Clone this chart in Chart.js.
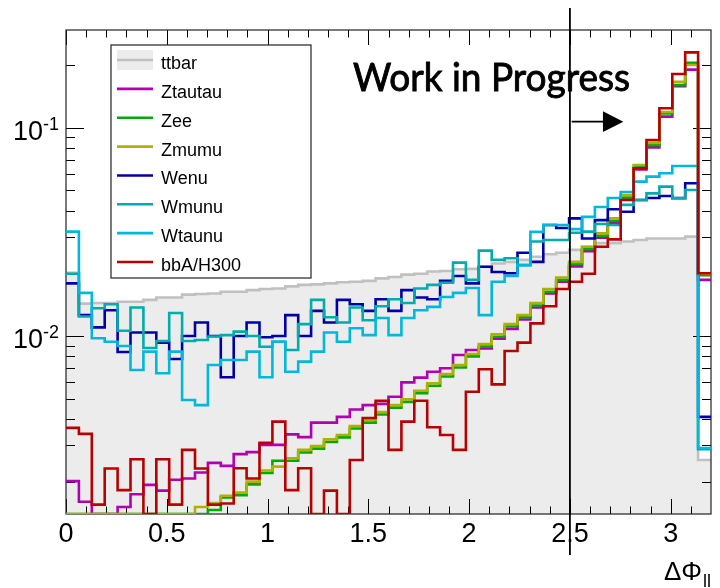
<!DOCTYPE html>
<html>
<head>
<meta charset="utf-8">
<script src="https://cdn.jsdelivr.net/npm/chart.js@4.4.1/dist/chart.umd.min.js"></script>
<style>
  html, body { margin: 0; padding: 0; background: #fff; }
  canvas { display: block; }
</style>
</head>
<body>
<canvas id="c" width="720" height="588"></canvas>
<script>
// Binning of the delta-phi histograms: 50 bins of 0.064 from 0 to 3.2
const binWidth = 0.064;
const nBins = 50;
const xTickValues = [0, 0.5, 1, 1.5, 2, 2.5, 3];
const xTickLabels = ['0', '0.5', '1', '1.5', '2', '2.5', '3'];
const yDecadeLabels = [-1, -2];

// Normalised bin contents per sample (0 = empty bin)
const ttbar = [0.0201, 0.0143, 0.0144, 0.0144, 0.0146, 0.0146, 0.0149, 0.0153, 0.0153, 0.0158,
  0.0159, 0.0160, 0.0163, 0.0163, 0.0166, 0.0168, 0.0169, 0.0173, 0.0176, 0.0177,
  0.0179, 0.0181, 0.0182, 0.0184, 0.0189, 0.0192, 0.0197, 0.0199, 0.0204, 0.0205,
  0.0209, 0.0210, 0.0215, 0.0223, 0.0227, 0.0232, 0.0240, 0.0247, 0.0251, 0.0259,
  0.0268, 0.0279, 0.0279, 0.0284, 0.0289, 0.0294, 0.0294, 0.0294, 0.0300, 0.00254];

const ztautau = [0.00201, 0.00160, 0, 0, 0.00151, 0.00174, 0.00193, 0.00181, 0.00204, 0.00207,
  0.00221, 0.00246, 0.00238, 0.00271, 0.00277, 0.00300, 0.00300, 0.00337, 0.00327, 0.00384,
  0.00384, 0.00409, 0.00444, 0.00466, 0.00472, 0.00511, 0.00599, 0.00631, 0.00674, 0.00700,
  0.00810, 0.00857, 0.00871, 0.00971, 0.0108, 0.0120, 0.0137, 0.0160, 0.0182, 0.0216,
  0.0255, 0.0296, 0.0349, 0.0452, 0.0630, 0.0804, 0.113, 0.158, 0.190, 0.0186];

const zee = [0, 0, 0, 0, 0, 0, 0, 0, 0, 0,
  0, 0.00146, 0.00168, 0.00172, 0.00194, 0.00220, 0.00252, 0.00252, 0.00276, 0.00288,
  0.00310, 0.00326, 0.00360, 0.00384, 0.00420, 0.00453, 0.00483, 0.00531, 0.00577, 0.00639,
  0.00706, 0.00798, 0.00890, 0.00992, 0.0111, 0.0123, 0.0140, 0.0163, 0.0186, 0.0221,
  0.0261, 0.0303, 0.0357, 0.0462, 0.0645, 0.0825, 0.117, 0.160, 0.205, 0.0196];

const zmumu = [0, 0, 0, 0, 0, 0, 0, 0, 0, 0,
  0.00151, 0.00158, 0.00171, 0.00177, 0.00200, 0.00226, 0.00236, 0.00259, 0.00284, 0.00296,
  0.00319, 0.00335, 0.00370, 0.00395, 0.00432, 0.00466, 0.00497, 0.00546, 0.00593, 0.00657,
  0.00726, 0.00820, 0.00915, 0.0102, 0.0114, 0.0126, 0.0144, 0.0168, 0.0191, 0.0227,
  0.0268, 0.0311, 0.0367, 0.0475, 0.0662, 0.0845, 0.119, 0.166, 0.200, 0.0199];

const wenu = [0.0179, 0.0126, 0.0110, 0.0133, 0.00838, 0.0104, 0.0104, 0.00929, 0.00775, 0.0100,
  0.0116, 0.0100, 0.00634, 0.0100, 0.0116, 0.00986, 0.0100, 0.0126, 0.0100, 0.0132,
  0.0116, 0.0149, 0.0142, 0.0132, 0.0150, 0.0132, 0.0166, 0.0153, 0.0150, 0.0184,
  0.0194, 0.0179, 0.0215, 0.0203, 0.0200, 0.0251, 0.0227, 0.0341, 0.0330, 0.0367,
  0.0294, 0.0360, 0.0406, 0.0395, 0.0450, 0.0460, 0.0470, 0.0460, 0.0541, 0.00409];

const wmunu = [0.0199, 0.0124, 0.0136, 0.0142, 0.0106, 0.0137, 0.00876, 0.00946, 0.0129, 0.00946,
  0.00957, 0.00995, 0.0101, 0.0105, 0.0100, 0.00888, 0.00939, 0.00857, 0.0114, 0.0149,
  0.0123, 0.0116, 0.0137, 0.0119, 0.0139, 0.0150, 0.0144, 0.0169, 0.0176, 0.0180,
  0.0225, 0.0186, 0.0257, 0.0232, 0.0236, 0.0219, 0.0284, 0.0289, 0.0289, 0.0313,
  0.0317, 0.0345, 0.0341, 0.0426, 0.0450, 0.0484, 0.0521, 0.0458, 0.0502, 0.00286];

const wtaunu = [0.0317, 0.0161, 0.00975, 0.00939, 0.00895, 0.00687, 0.00841, 0.00662, 0.00841, 0.00493,
  0.00466, 0.00726, 0.00767, 0.00767, 0.00841, 0.00634, 0.00939, 0.00674, 0.00753, 0.00841,
  0.0104, 0.00939, 0.0109, 0.0101, 0.0122, 0.0101, 0.0122, 0.0133, 0.0138, 0.0154,
  0.0161, 0.0170, 0.0126, 0.0182, 0.0194, 0.0219, 0.0316, 0.0341, 0.0341, 0.0326,
  0.0373, 0.0416, 0.0460, 0.0491, 0.0551, 0.0582, 0.0604, 0.0655, 0.0655, 0.00290];

const bbA300 = [0.00362, 0.00339, 0.00155, 0.00231, 0.00182, 0.00256, 0, 0.00256, 0.00155, 0.00284,
  0.00231, 0.00155, 0.00157, 0.00232, 0.00207, 0.00307, 0.00388, 0.00182, 0.00232, 0,
  0.00181, 0, 0.00254, 0.00404, 0.00489, 0.00284, 0.00388, 0.00489, 0.00365, 0.00335,
  0.00284, 0.00540, 0.00692, 0.00586, 0.00847, 0.00929, 0.0115, 0.0139, 0.0168, 0.0182,
  0.0199, 0.0268, 0.0291, 0.0450, 0.0639, 0.0873, 0.124, 0.181, 0.230, 0.0200];

const Y_MIN = 0.001398;
const Y_MAX = 0.2944;
const FONT = '"Liberation Sans", Arial, Helvetica, sans-serif';

// Histogram outline: first point at x=0, then one point per upper bin edge.
// With step-before drawing each bin's level spans its own bin.
// Empty bins sit on the lower frame edge, as ROOT draws them.
function histPoints(vals) {
  const lv = vals.map(v => (v > 0 ? v : Y_MIN));
  const pts = [{ x: 0, y: lv[0] }];
  lv.forEach((v, i) => pts.push({ x: (i + 1) * binWidth, y: v }));
  return pts;
}

const samples = [
  { label: 'ttbar',    vals: ttbar,   color: '#c0c0c0', fill: '#ececec' },
  { label: 'Ztautau',  vals: ztautau, color: '#b000b0' },
  { label: 'Zee',      vals: zee,     color: '#00aa00' },
  { label: 'Zmumu',    vals: zmumu,   color: '#b0b000' },
  { label: 'Wenu',     vals: wenu,    color: '#0000aa' },
  { label: 'Wmunu',    vals: wmunu,   color: '#00acac' },
  { label: 'Wtaunu',   vals: wtaunu,  color: '#00b8dc' },
  { label: 'bbA/H300', vals: bbA300,  color: '#b80000' }
];

const datasets = samples.map((s, i) => ({
  label: s.label,
  data: histPoints(s.vals),
  borderColor: s.color,
  backgroundColor: s.fill || s.color,
  fill: s.fill ? 'start' : false,
  borderWidth: 2.6,
  stepped: 'after',
  pointRadius: 0,
  tension: 0,
  order: samples.length - i
}));

// Frame and inward ticks, drawn right after the filled ttbar histogram
const frameTicks = {
  id: 'frameTicks',
  afterDatasetDraw(chart, args) {
    if (args.index !== 0) return;
    const { ctx, chartArea: a, scales: { x, y } } = chart;
    ctx.save();
    ctx.strokeStyle = '#000';
    ctx.lineWidth = 1;
    ctx.beginPath();
    for (let k = 0; k < 32; k++) {
      const px = Math.round(x.getPixelForValue(k / 10)) + 0.5;
      const len = k % 5 === 0 ? 15 : 7.5;
      ctx.moveTo(px, a.bottom); ctx.lineTo(px, a.bottom - len);
      ctx.moveTo(px, a.top); ctx.lineTo(px, a.top + len);
    }
    for (let e = -3; e <= 0; e++) {
      for (let m = 1; m <= 9; m++) {
        const v = m * Math.pow(10, e);
        if (v < Y_MIN || v > Y_MAX) continue;
        const py = Math.round(y.getPixelForValue(v)) + 0.5;
        const len = m === 1 ? 18 : 9;
        ctx.moveTo(a.left, py); ctx.lineTo(a.left + len, py);
        ctx.moveTo(a.right, py); ctx.lineTo(a.right - len, py);
      }
    }
    ctx.stroke();
    ctx.strokeStyle = '#222';
    ctx.lineWidth = 1.2;
    ctx.strokeRect(a.left, a.top, a.right - a.left, a.bottom - a.top);
    ctx.restore();
  }
};

// Cut line, arrow, label text, legend, y decade labels and x title
const overlay = {
  id: 'overlay',
  afterDraw(chart) {
    const { ctx, chartArea: a, scales: { x, y } } = chart;
    ctx.save();

    // y decade labels 10^-n
    ctx.fillStyle = '#000';
    ctx.textBaseline = 'alphabetic';
    ctx.textAlign = 'left';
    yDecadeLabels.forEach(e => {
      const py = y.getPixelForValue(Math.pow(10, e));
      const sup = '-' + (-e);
      ctx.font = '18px ' + FONT;
      const sw = ctx.measureText(sup).width;
      const right = a.left - 7;
      ctx.fillText(sup, right - sw, py + 2);
      ctx.font = '27px ' + FONT;
      const bw = ctx.measureText('10').width;
      ctx.fillText('10', right - sw - bw, py + 12.3);
    });

    // x axis title
    ctx.font = '26px ' + FONT;
    ctx.textAlign = 'right';
    ctx.fillText('\u0394\u03A6', 702, 580);
    ctx.font = '18px ' + FONT;
    ctx.textAlign = 'left';
    ctx.fillText('ll', 703, 587);

    // cut at 2.5
    const cx = x.getPixelForValue(2.5);
    ctx.strokeStyle = '#000';
    ctx.lineWidth = 1.8;
    ctx.beginPath();
    ctx.moveTo(cx, a.top - 22);
    ctx.lineTo(cx, a.bottom + 41);
    ctx.stroke();

    // arrow pointing to the selected region
    const ay = y.getPixelForValue(0.1069);
    const ax0 = x.getPixelForValue(2.509);
    const ax1 = x.getPixelForValue(2.664);
    const ax2 = x.getPixelForValue(2.765);
    ctx.lineWidth = 1.6;
    ctx.beginPath();
    ctx.moveTo(ax0, ay); ctx.lineTo(ax1 + 2, ay);
    ctx.stroke();
    ctx.fillStyle = '#000';
    ctx.beginPath();
    ctx.moveTo(ax1, ay - 10.3);
    ctx.lineTo(ax1, ay + 10.3);
    ctx.lineTo(ax2, ay);
    ctx.closePath();
    ctx.fill();

    // label
    ctx.font = '38px Lato, "DejaVu Sans", sans-serif';
    ctx.textAlign = 'left';
    const txt = 'Work in Progress';
    const tw = ctx.measureText(txt).width;
    const tx = x.getPixelForValue(1.424);
    const tyb = y.getPixelForValue(0.1505);
    ctx.save();
    ctx.translate(tx, tyb);
    ctx.scale(277 / tw, 1);
    ctx.lineWidth = 0.9;
    ctx.strokeStyle = '#000';
    ctx.strokeText(txt, 0, 0);
    ctx.fillText(txt, 0, 0);
    ctx.restore();

    // legend
    const L = { x: 111, y: 45, w: 200, h: 233 };
    ctx.fillStyle = '#fff';
    ctx.fillRect(L.x, L.y, L.w, L.h);
    ctx.strokeStyle = '#333';
    ctx.lineWidth = 1.3;
    ctx.strokeRect(L.x, L.y, L.w, L.h);
    ctx.font = '18px ' + FONT;
    ctx.textAlign = 'left';
    chart.data.datasets.forEach((ds, i) => {
      const yy = 60 + i * 28.86;
      if (ds.fill) {
        ctx.fillStyle = ds.backgroundColor;
        ctx.fillRect(117, yy - 10, 36, 20);
      }
      ctx.strokeStyle = ds.borderColor;
      ctx.lineWidth = 2.6;
      ctx.beginPath();
      ctx.moveTo(117, yy); ctx.lineTo(153, yy);
      ctx.stroke();
      ctx.fillStyle = '#000';
      ctx.fillText(ds.label, 161, yy + 9);
    });

    ctx.restore();
  }
};

new Chart(document.getElementById('c'), {
  type: 'line',
  data: { datasets },
  plugins: [frameTicks, overlay],
  options: {
    responsive: false,
    devicePixelRatio: 1,
    animation: false,
    events: [],
    layout: { padding: { top: 30, right: 9, left: 0, bottom: 0 } },
    plugins: { legend: { display: false }, tooltip: { enabled: false } },
    scales: {
      x: {
        type: 'linear',
        min: 0,
        max: nBins * binWidth,
        grid: { display: false, drawTicks: false },
        border: { display: false },
        afterFit: s => { s.height = 74; },
        afterBuildTicks: s => { s.ticks = xTickValues.map(v => ({ value: v })); },
        ticks: {
          autoSkip: false,
          maxRotation: 0,
          padding: 4,
          color: '#000',
          font: { size: 27, family: FONT },
          callback: (v, i) => xTickLabels[i]
        }
      },
      y: {
        type: 'logarithmic',
        min: Y_MIN,
        max: Y_MAX,
        grid: { display: false, drawTicks: false },
        border: { display: false },
        ticks: { display: false },
        afterFit: s => { s.width = 66; }
      }
    }
  }
});
</script>
</body>
</html>
